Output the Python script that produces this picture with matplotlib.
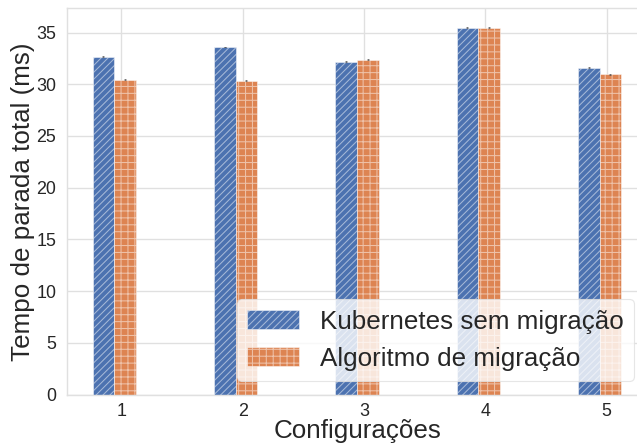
import matplotlib
matplotlib.use("Agg")
import matplotlib.pyplot as plt
import seaborn as sns
import numpy as np

configs = [1, 2, 3, 4, 5]
kubernetes = [32.66, 33.6, 32.2, 35.46, 31.6]
algoritmo = [30.46, 30.34, 32.37, 35.46, 30.98]
err_k = [0.04, 0.04, 0.04, 0.04, 0.04]
err_a = [0.04, 0.04, 0.04, 0.04, 0.04]
labels = ["Kubernetes sem migração", "Algoritmo de migração"]

sns.set_theme(style="whitegrid")
plt.rcParams['font.family'] = ['Liberation Sans', 'DejaVu Sans']
plt.rcParams['hatch.linewidth'] = 0.9

DPI = 83
fig = plt.figure(figsize=(637 / DPI, 444 / DPI), dpi=DPI)
ax = fig.add_axes([66.7 / 637, (444 - 394.5) / 444, (649 - 66.7) / 637, (394.5 - 8.3) / 444])

x = np.array(configs, dtype=float)
w = 0.178
off = -0.058
edge = (1, 1, 1, 0.5)
ax.bar(x + off - w / 2, kubernetes, w, color="#4C72B0", edgecolor=edge, hatch="////",
       linewidth=0.8, label=labels[0], yerr=err_k, capsize=1,
       error_kw=dict(ecolor="#555555", elinewidth=0.6, capthick=0.6))
ax.bar(x + off + w / 2, algoritmo, w, color="#DD8452", edgecolor=edge, hatch="++",
       linewidth=0.8, label=labels[1], yerr=err_a, capsize=1,
       error_kw=dict(ecolor="#555555", elinewidth=0.6, capthick=0.6))

ax.set_xlim(0.55, 5.349)
ax.set_ylim(0, 37.35)
ax.set_xticks(configs)
ax.set_yticks([0, 5, 10, 15, 20, 25, 30, 35])
ax.tick_params(axis='x', labelsize=15.5, colors='.15', pad=1.5)
ax.tick_params(axis='y', labelsize=15.5, colors='.15', pad=3)
ax.set_xlabel("Configurações", fontsize=22.5, color='.15', labelpad=-1)
ax.set_ylabel("Tempo de parada total (ms)", fontsize=22.5, color='.15', labelpad=1.5)
ax.grid(True, color='.88', linewidth=1.2)
for s in ax.spines.values():
    s.set_color('.88')
ax.set_axisbelow(True)

leg = ax.legend(loc='lower right', bbox_to_anchor=(0.974, 0.035), borderaxespad=0,
                fontsize=22.5, handlelength=2.0, frameon=True)
leg.get_frame().set_edgecolor('.88')

fig.savefig("out.png", dpi=DPI)
